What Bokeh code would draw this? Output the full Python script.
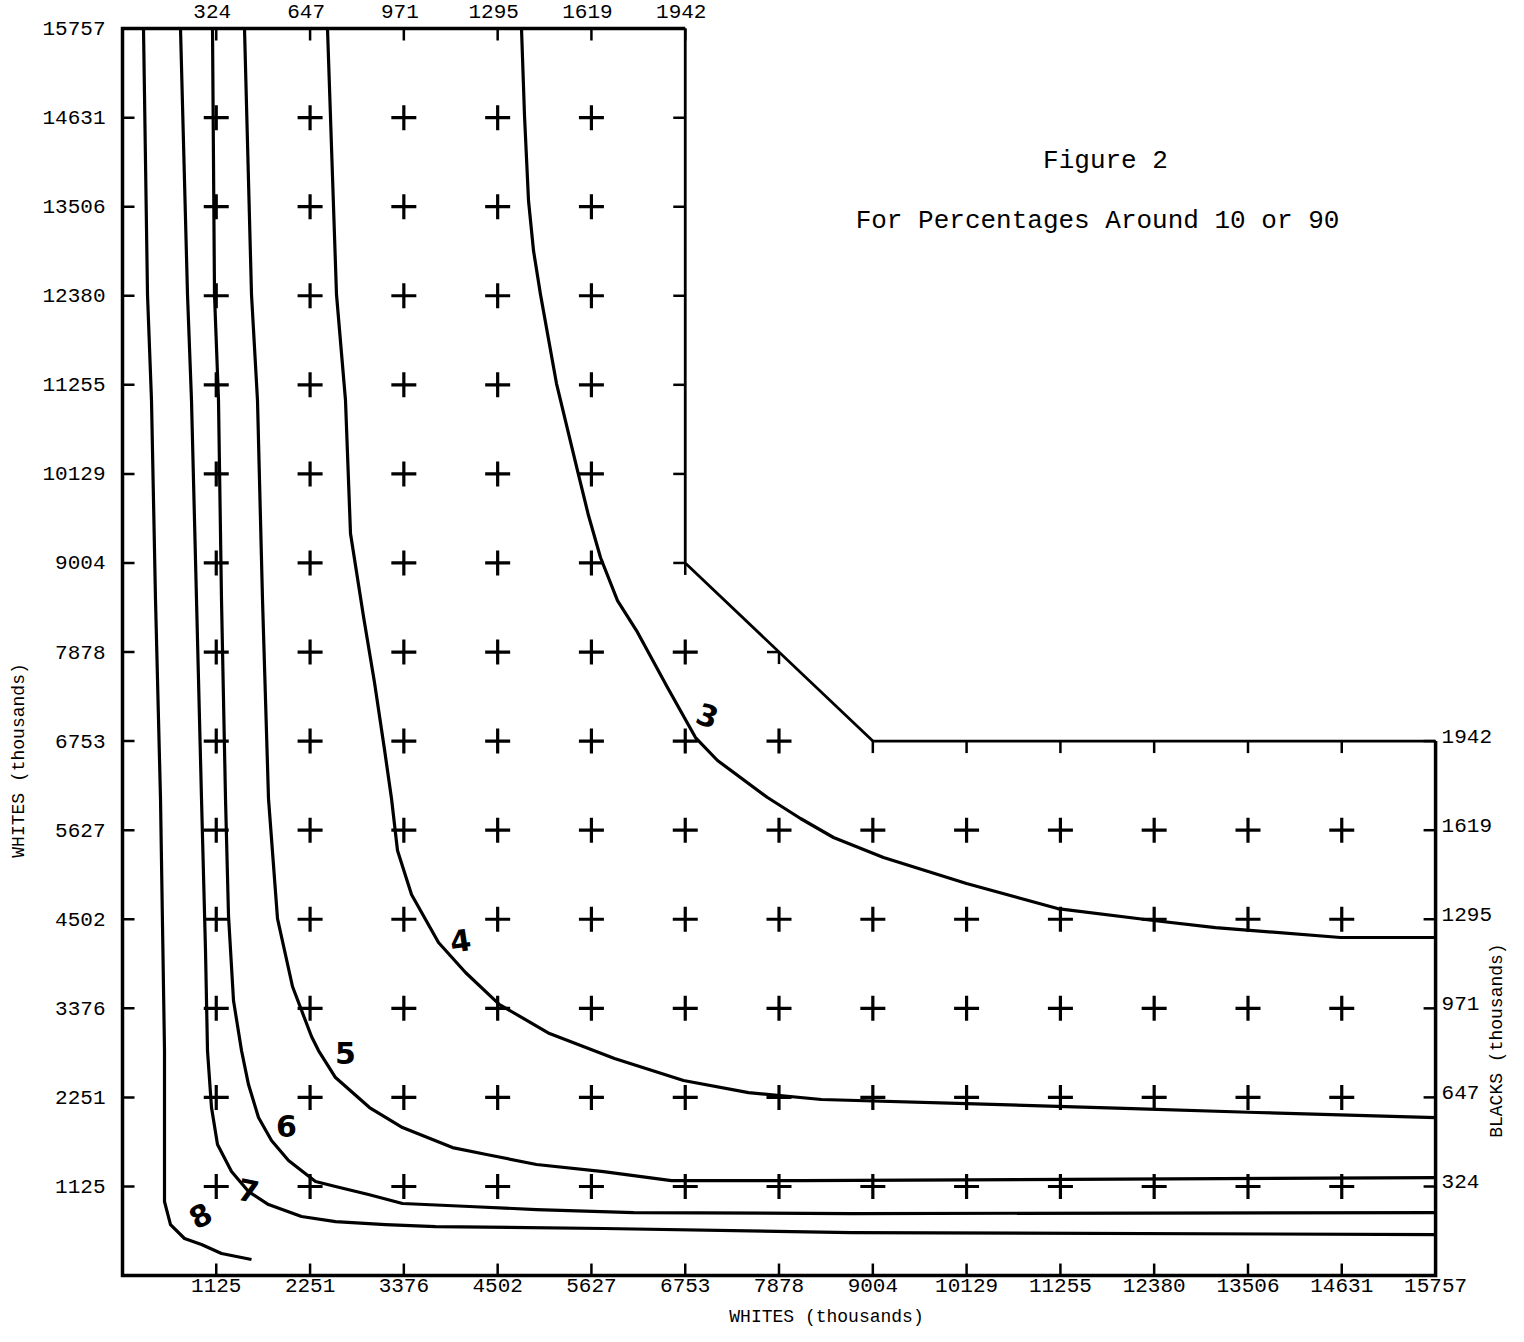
import math
from bokeh.plotting import figure
from bokeh.models import Range1d, Label
from bokeh.core.properties import value
from bokeh.embed import file_html
from bokeh.resources import INLINE

# ---------------- data ----------------
whites_ticks = [1125, 2251, 3376, 4502, 5627, 6753, 7878, 9004,
                10129, 11255, 12380, 13506, 14631, 15757]
whites_labels = [str(t) for t in whites_ticks]
blacks_labels = ["324", "647", "971", "1295", "1619", "1942"]
blacks_at_whites = [1125, 2251, 3376, 4502, 5627, 6753]

# outer axes of the L-shaped region and its inner corner with the diagonal
outer_x = [6753, 0, 0, 15757, 15757]
outer_y = [15757, 15757, 0, 0, 6753]
boundary_x = [6753, 6753, 9004, 15757]
boundary_y = [15757, 9004, 6753, 6753]

curve_names = ["3", "4", "5", "6", "7", "8"]

curve3_x = [4788, 4824, 4872, 4932, 5016, 5208, 5460, 5592, 5736, 5940, 6168, 6540,
            6876, 7140, 7740, 8136, 8532, 9132, 10128, 11220, 12372, 13116, 14616, 15757]
curve3_y = [15757, 14658, 13584, 12951, 12396, 11271, 10172, 9603, 9073, 8529, 8150, 7430,
            6798, 6508, 6040, 5775, 5535, 5282, 4953, 4637, 4486, 4397, 4271, 4271]

curve4_x = [2460, 2568, 2676, 2736, 2892, 3024, 3144, 3228, 3300, 3468, 3792, 4116,
            4524, 5124, 5904, 6732, 7512, 8388, 10128, 12120, 13608, 15757]
curve4_y = [15757, 12396, 11057, 9376, 8327, 7493, 6647, 6027, 5370, 4814, 4208, 3829,
            3424, 3058, 2742, 2464, 2312, 2224, 2173, 2110, 2060, 1996]

curve5_x = [1464, 1548, 1620, 1680, 1752, 1860, 2040, 2268, 2352, 2556, 2964, 3360,
            3960, 4368, 4968, 5772, 6588, 8136, 15757]
curve5_y = [15757, 12396, 11057, 8542, 6027, 4511, 3652, 3020, 2843, 2502, 2123, 1870,
            1617, 1529, 1403, 1314, 1200, 1200, 1238]

curve6_x = [1080, 1104, 1152, 1188, 1236, 1272, 1332, 1428, 1512, 1632, 1788, 1992,
            2316, 2556, 2952, 3360, 4164, 4968, 6132, 8748, 15757]
curve6_y = [15757, 12396, 11057, 8542, 6027, 4549, 3475, 2843, 2413, 1996, 1706, 1453,
            1188, 1125, 1024, 910, 872, 834, 796, 783, 796]

curve7_x = [696, 780, 828, 888, 948, 996, 1020, 1068, 1140, 1308, 1512, 1752,
            2148, 2556, 3156, 3756, 5772, 8748, 15757]
curve7_y = [15757, 12396, 11057, 8542, 6027, 4107, 2843, 2123, 1655, 1314, 1061, 897,
            746, 682, 644, 619, 594, 543, 518]

curve8_x = [252, 300, 348, 396, 456, 504, 504, 576, 744, 948, 1188, 1548]
curve8_y = [15757, 12396, 11057, 8542, 6027, 2843, 935, 644, 468, 392, 278, 202]

label_x = [7020, 4056, 2676, 1968, 1512, 936]
label_y = [7076, 4233, 2818, 1895, 1074, 758]

title_lines = ["Figure 2", "For Percentages Around 10 or 90"]
axis_titles = ["WHITES (thousands)", "WHITES (thousands)", "BLACKS (thousands)"]

# ---------------- figure ----------------
p = figure(width=1508, height=1326,
           x_range=Range1d(-1464, 16632), y_range=Range1d(-644, 16111),
           x_axis_location=None, y_axis_location=None,
           output_backend="svg", toolbar_location=None,
           min_border=0, min_border_left=0, min_border_right=0,
           min_border_top=0, min_border_bottom=0)
p.outline_line_color = None
p.background_fill_color = "white"
p.border_fill_color = "white"
p.xgrid.grid_line_color = None
p.ygrid.grid_line_color = None

MONO = value("Liberation Mono")
FS = value("21px")
INK = "black"

# axis lines (outer frame of the L) and inner boundary
p.line(outer_x, outer_y, line_color=INK, line_width=3.5, line_join="miter")
p.line(boundary_x, boundary_y, line_color=INK, line_width=2.8)

# axis ticks, pointing into the region
n_w = len(whites_ticks)
n_b = len(blacks_at_whites)
p.ray(x=[0] * n_w, y=whites_ticks, length=12, length_units="screen", angle=0,
      line_color=INK, line_width=2.5)
p.ray(x=whites_ticks, y=[0] * n_w, length=12, length_units="screen", angle=math.pi / 2,
      line_color=INK, line_width=2.5)
p.ray(x=blacks_at_whites, y=[15757] * n_b, length=12, length_units="screen",
      angle=-math.pi / 2, line_color=INK, line_width=2.5)
p.ray(x=[15757] * n_b, y=blacks_at_whites, length=12, length_units="screen",
      angle=math.pi, line_color=INK, line_width=2.5)

# inner boundary ticks
inner = [t for t in whites_ticks if 9004 <= t < 15757]
p.ray(x=[6753] * len(inner) + [7878], y=inner + [7878], length=12, length_units="screen",
      angle=math.pi, line_color=INK, line_width=2.5)
p.ray(x=inner + [7878, 6753], y=[6753] * len(inner) + [7878, 9004], length=12,
      length_units="screen", angle=-math.pi / 2, line_color=INK, line_width=2.5)

# tick labels
p.text(x=[0] * n_w, y=whites_ticks, text=whites_labels, x_offset=-17,
       text_align="right", text_baseline="middle", text_font=MONO,
       text_font_size=FS, text_color=INK)
p.text(x=whites_ticks, y=[0] * n_w, text=whites_labels, y_offset=3,
       text_align="center", text_baseline="top", text_font=MONO,
       text_font_size=FS, text_color=INK)
p.text(x=blacks_at_whites, y=[15757] * n_b, text=blacks_labels, x_offset=-4, y_offset=-17,
       text_align="center", text_baseline="middle", text_font=MONO,
       text_font_size=FS, text_color=INK)
p.text(x=[15757] * n_b, y=blacks_at_whites, text=blacks_labels, x_offset=6, y_offset=-5,
       text_align="left", text_baseline="middle", text_font=MONO,
       text_font_size=FS, text_color=INK)

# axis titles
p.text(x=[-1248], y=[6508], text=[axis_titles[0]], angle=math.pi / 2,
       text_align="center", text_baseline="middle", text_font=MONO,
       text_font_size=value("18px"), text_color=INK)
p.text(x=[8448], y=[-520], text=[axis_titles[1]],
       text_align="center", text_baseline="middle", text_font=MONO,
       text_font_size=value("18px"), text_color=INK)
p.text(x=[16490], y=[2969], text=[axis_titles[2]], angle=math.pi / 2,
       text_align="center", text_baseline="middle", text_font=MONO,
       text_font_size=value("18px"), text_color=INK)

# grid of plus marks inside the region
plus_x, plus_y = [], []
for gx in whites_ticks[:-1]:
    for gy in whites_ticks[:-1]:
        if gx < 6753 or gy < 6753 or gx + gy < 15000:
            plus_x.append(gx)
            plus_y.append(gy)
p.scatter(plus_x, plus_y, marker="cross", size=25, line_color=INK, line_width=3.2)

# curves
for cx, cy in [(curve3_x, curve3_y), (curve4_x, curve4_y), (curve5_x, curve5_y),
               (curve6_x, curve6_y), (curve7_x, curve7_y), (curve8_x, curve8_y)]:
    p.line(cx, cy, line_color=INK, line_width=3.2, line_join="round")

# curve labels
angles = [-0.35, 0.15, 0.0, 0.0, -0.2, 0.5]
for name, lx, ly, ang in zip(curve_names, label_x, label_y, angles):
    p.add_layout(Label(x=lx, y=ly, text=name, text_font="DejaVu Sans",
                       text_font_size="30px", text_font_style="bold",
                       text_color=INK, angle=ang,
                       text_align="center", text_baseline="middle"))

# titles
p.add_layout(Label(x=11796, y=14089, text=title_lines[0], text_font="Liberation Mono",
                   text_font_size="26px", text_color=INK,
                   text_align="center", text_baseline="middle"))
p.add_layout(Label(x=11700, y=13331, text=title_lines[1], text_font="Liberation Mono",
                   text_font_size="26px", text_color=INK,
                   text_align="center", text_baseline="middle"))

open("out.html", "w").write(file_html(p, INLINE))
